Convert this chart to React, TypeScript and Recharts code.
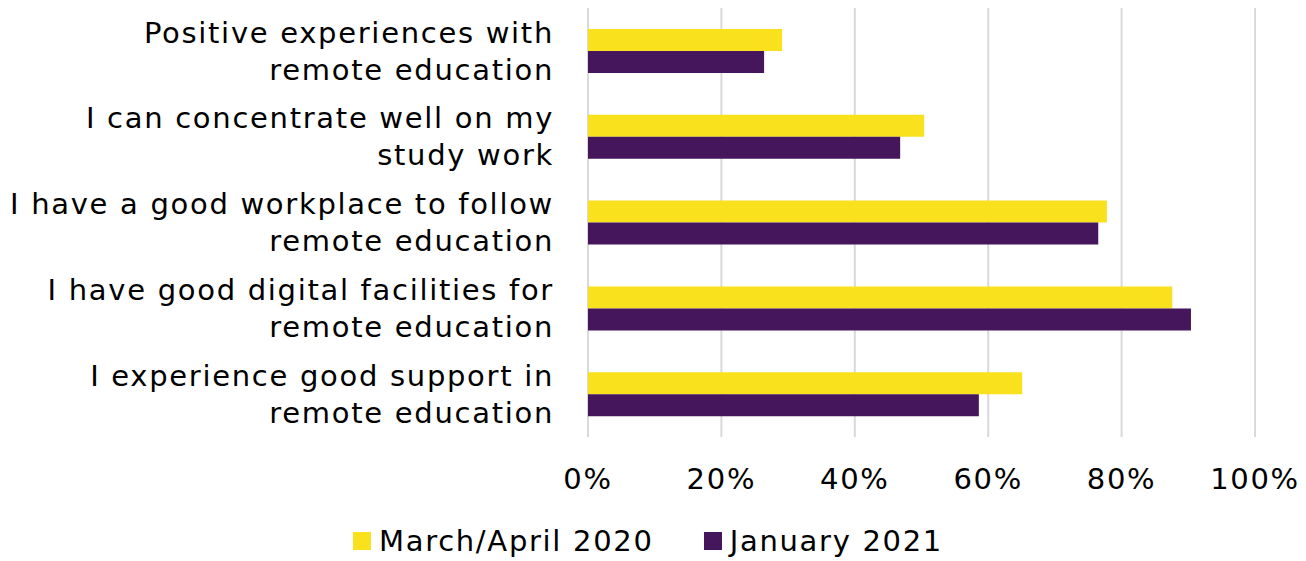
import React from "react"
import {
    Bar,
    BarChart,
    CartesianGrid,
    Legend,
    XAxis,
    YAxis,
} from "recharts"

const categories = [
    "Positive experiences with\nremote education",
    "I can concentrate well on my\nstudy work",
    "I have a good workplace to follow\nremote education",
    "I have good digital facilities for\nremote education",
    "I experience good support in\nremote education",
]
const spring2020 = [29.1, 50.4, 77.8, 87.6, 65.1]
const january2021 = [26.4, 46.8, 76.5, 90.4, 58.6]
const xTicks = [0, 20, 40, 60, 80, 100]

const seriesNames = ["March/April 2020", "January 2021"]
const YELLOW = "#F9E11E"
const PURPLE = "#45165C"
const FONT = "'DejaVu Sans', Verdana, sans-serif"
const FS = 29
const LS = 1.7

const data = categories.map((name, i) => ({
    name,
    s2020: spring2020[i],
    s2021: january2021[i],
}))

function CategoryTick(props: any) {
    const { x, y, payload } = props
    const lines = String(payload.value).split("\n")
    const lh = 37
    const start = -((lines.length - 1) * lh) / 2 + FS * 0.35
    return (
        <text x={x} y={y} textAnchor="end" fill="#000" fontSize={FS} fontFamily={FONT} letterSpacing={LS}>
            {lines.map((l, i) => (
                <tspan key={i} x={x} dy={i === 0 ? start : lh}>
                    {l}
                </tspan>
            ))}
        </text>
    )
}

function LegendContent() {
    const colors = [YELLOW, PURPLE]
    return (
        <div style={{ display: "flex", justifyContent: "center", alignItems: "center", height: 40, paddingRight: 10, fontFamily: FONT, fontSize: FS, letterSpacing: LS }}>
            {seriesNames.map((n, i) => (
                <div key={n} style={{ display: "flex", alignItems: "center", marginLeft: i === 0 ? 0 : 50 }}>
                    <span style={{ display: "inline-block", width: 18, height: 18, background: colors[i], marginRight: 8 }} />
                    <span>{n}</span>
                </div>
            ))}
        </div>
    )
}

export default function App() {
    return (
        <div style={{ position: "absolute", left: 0, top: 0, width: 1306, height: 561, background: "#fff" }}>
            <BarChart
                width={1306}
                height={561}
                data={data}
                layout="vertical"
                margin={{ top: 8, right: 51, left: 0, bottom: 0 }}
                barSize={22}
                barGap={0}
            >
                <CartesianGrid horizontal={false} stroke="#d9d9d9" strokeWidth={2} />
                <XAxis
                    type="number"
                    domain={[0, 100]}
                    ticks={xTicks}
                    tickFormatter={(v) => `${v}%`}
                    axisLine={false}
                    tickLine={false}
                    tickMargin={25}
                    height={84}
                    tick={{ fill: "#000", fontSize: FS, fontFamily: FONT, letterSpacing: LS }}
                />
                <YAxis
                    type="category"
                    dataKey="name"
                    width={588}
                    axisLine={false}
                    tickLine={false}
                    tickMargin={28}
                    tick={<CategoryTick />}
                />
                <Legend
                    verticalAlign="bottom"
                    wrapperStyle={{ left: 0, width: 1306 }}
                    content={<LegendContent />}
                />
                <Bar dataKey="s2020" name={seriesNames[0]} fill={YELLOW} isAnimationActive={false} />
                <Bar dataKey="s2021" name={seriesNames[1]} fill={PURPLE} isAnimationActive={false} />
            </BarChart>
        </div>
    )
}
